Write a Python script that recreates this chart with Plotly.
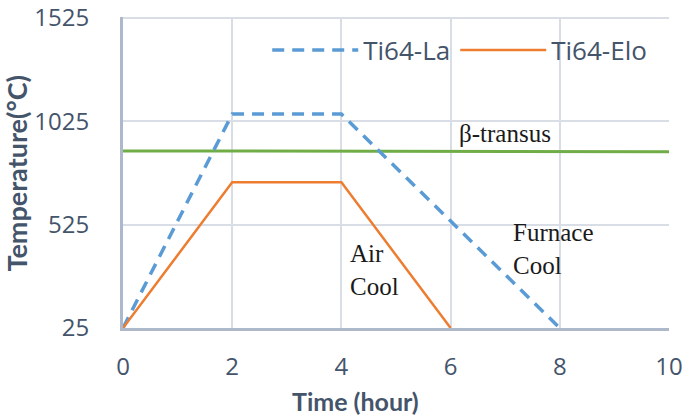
import plotly.graph_objects as go

la_time = [0, 2, 4, 8]
la_temp = [25, 1060, 1060, 25]
elo_time = [0, 2, 4, 6]
elo_temp = [25, 730, 730, 25]
beta_time = [0, 10]
beta_temp = [882, 878]

x_ticks = [0, 2, 4, 6, 8, 10]
y_ticks = [25, 525, 1025, 1525]

text_color = "#44546A"
grid_color = "#D9DEE6"
axis_color = "#ADB9CA"

fig = go.Figure()
fig.add_trace(go.Scatter(x=beta_time, y=beta_temp, mode="lines", showlegend=False,
                         line=dict(color="#70AD47", width=3)))
fig.add_trace(go.Scatter(x=la_time, y=la_temp, mode="lines", name="Ti64-La",
                         line=dict(color="#5B9BD5", width=3.5, dash="12px,8px")))
fig.add_trace(go.Scatter(x=elo_time, y=elo_temp, mode="lines", name="Ti64-Elo",
                         line=dict(color="#ED7D31", width=2.5)))

serif = dict(family="Liberation Serif", size=25, color="#1a1a1a")
fig.add_annotation(x=7.0, y=964, text="β-transus", showarrow=False, font=serif)
fig.add_annotation(x=4.12, y=305, text="Air<br>Cool", showarrow=False, font=serif,
                   xanchor="left", align="left")
fig.add_annotation(x=7.1, y=407, text="Furnace<br>Cool", showarrow=False, font=serif,
                   xanchor="left", align="left")

# axis titles
fig.add_annotation(xref="paper", yref="paper", x=(355 - 122.7) / 546.3, y=-(401 - 327.7) / 310.7,
                   text="<b>Time (hour)</b>", showarrow=False, xanchor="center", yanchor="middle",
                   font=dict(family="Lato", size=25, color=text_color))
fig.add_annotation(xref="paper", yref="paper", x=-(122.7 - 16) / 546.3, y=(327.7 - 173) / 310.7,
                   text="<b>Temperature(°C)</b>", showarrow=False, textangle=-90,
                   xanchor="center", yanchor="middle",
                   font=dict(family="Lato", size=27, color=text_color))

fig.update_layout(
    width=685, height=419,
    margin=dict(l=123, r=16, t=17, b=91),
    paper_bgcolor="white", plot_bgcolor="white",
    font=dict(family="Open Sans", size=24, color=text_color),
    showlegend=True,
    legend=dict(orientation="h", x=(267 - 122.7) / 546.3, y=(327.7 - 50) / 310.7,
                xanchor="left", yanchor="middle",
                bgcolor="rgba(255,255,255,0)", itemwidth=86,
                font=dict(family="Open Sans", size=26, color=text_color)),
    xaxis=dict(range=[0, 10], tickvals=x_ticks, ticktext=[str(v) for v in x_ticks],
               showgrid=True, gridcolor=grid_color, gridwidth=2,
               showline=True, linecolor=axis_color, linewidth=3,
               ticks="", ticklabelstandoff=15, automargin=False, ticklabeloverflow="allow",
               zeroline=False, tickfont=dict(family="Open Sans", size=24, color=text_color)),
    yaxis=dict(range=[25, 1530], tickvals=y_ticks, ticktext=[str(v) for v in y_ticks],
               showgrid=True, gridcolor=grid_color, gridwidth=2,
               showline=True, linecolor=axis_color, linewidth=3,
               ticks="", ticklabelstandoff=26, automargin=False, ticklabeloverflow="allow",
               zeroline=False, tickfont=dict(family="Open Sans", size=24, color=text_color)),
)

fig.write_html("out.html", config={"displayModeBar": False},
               post_script="document.body.style.margin='0px';")
